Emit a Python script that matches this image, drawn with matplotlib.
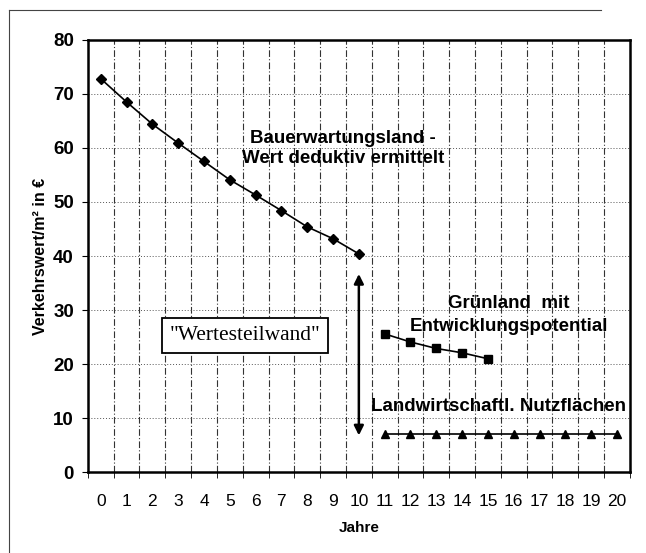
import matplotlib
matplotlib.use("Agg")
import matplotlib.pyplot as plt
from matplotlib.lines import Line2D
import numpy as np

plt.rcParams['font.family'] = ['Liberation Sans', 'DejaVu Sans']

years = list(range(21))
year_labels = [str(y) for y in years]

# Bauerwartungsland (Jahre 0-10)
bauer_x = list(range(0, 11))
bauer_y = [72.8, 68.5, 64.4, 60.9, 57.5, 54.1, 51.3, 48.4, 45.4, 43.2, 40.4]

# Grünland mit Entwicklungspotential (Jahre 11-15)
gruen_x = [11, 12, 13, 14, 15]
gruen_y = [25.6, 24.1, 22.9, 22.1, 21.0]

# Landwirtschaftl. Nutzflächen (Jahre 11-20)
land_x = list(range(11, 21))
land_y = [7.0] * 10

yticks = [0, 10, 20, 30, 40, 50, 60, 70, 80]

fig = plt.figure(figsize=(6.46, 5.53), dpi=100)
ax = fig.add_axes([0.136, 0.146, 0.839, 0.782])

# frame lines of the scanned chart (left and top only)
fig.lines.append(Line2D([0.014, 0.014], [0.0, 0.982], transform=fig.transFigure,
                        color='#444444', lw=0.8))
fig.lines.append(Line2D([0.014, 0.93], [0.982, 0.982], transform=fig.transFigure,
                        color='#444444', lw=0.8))

ax.set_xlim(-0.5, 20.5)
ax.set_ylim(0, 80)

# grid: vertical lines at category boundaries, dotted horizontals
for b in np.arange(0.5, 20.5, 1):
    ax.axvline(b, color='#333333', lw=0.8, ls=(0, (6, 2, 1, 2)), zorder=0)
for yv in yticks[1:-1]:
    ax.axhline(yv, color='#555555', lw=0.7, ls=(0, (1, 2)), zorder=0)

ax.plot(bauer_x, bauer_y, color='black', lw=1.2, marker='D', ms=5)
ax.plot(gruen_x, gruen_y, color='black', lw=1.2, marker='s', ms=5.5)
ax.plot(land_x, land_y, color='black', lw=1.2, marker='^', ms=6)

# double arrow "Wertesteilwand"
ax.annotate('', xy=(10, 6.3), xytext=(10, 37.2),
            arrowprops=dict(arrowstyle='<|-|>', color='black', lw=1.8,
                            mutation_scale=14))

ax.text(9.4, 61.8, 'Bauerwartungsland -', ha='center', va='center',
        fontsize=13.5, fontweight='bold')
ax.text(9.4, 58.1, 'Wert deduktiv ermittelt', ha='center', va='center',
        fontsize=13.5, fontweight='bold')
ax.text(15.8, 31.2, 'Grünland  mit', ha='center', va='center',
        fontsize=13.5, fontweight='bold')
ax.text(15.8, 27.0, 'Entwicklungspotential', ha='center', va='center',
        fontsize=13.5, fontweight='bold')
ax.text(15.4, 12.1, 'Landwirtschaftl. Nutzflächen', ha='center', va='center',
        fontsize=13.5, fontweight='bold')
ax.text(5.6, 25.3, '"Wertesteilwand"', ha='center', va='center',
        fontsize=15.5, family=['Liberation Serif', 'DejaVu Serif'],
        bbox=dict(boxstyle='square,pad=0.35', facecolor='white',
                  edgecolor='black', lw=1.3))

ax.set_yticks(yticks)
ax.set_yticklabels([str(v) for v in yticks], fontsize=13.5, fontweight='bold')
ax.set_xticks(years)
ax.set_xticklabels(year_labels, fontsize=12.5)
ax.set_xticks(np.arange(-0.5, 21, 1), minor=True)
ax.tick_params(axis='x', which='major', length=0, pad=16)
ax.tick_params(axis='x', which='minor', length=4, direction='out')
ax.tick_params(axis='y', length=4, direction='out', pad=6)

for s in ax.spines.values():
    s.set_linewidth(1.8)

ax.set_xlabel('Jahre', fontsize=11, fontweight='bold', labelpad=8)
ax.set_ylabel('Verkehrswert/m² in €', fontsize=11.5, fontweight='bold', labelpad=4)

fig.savefig('out.png', dpi=100)
